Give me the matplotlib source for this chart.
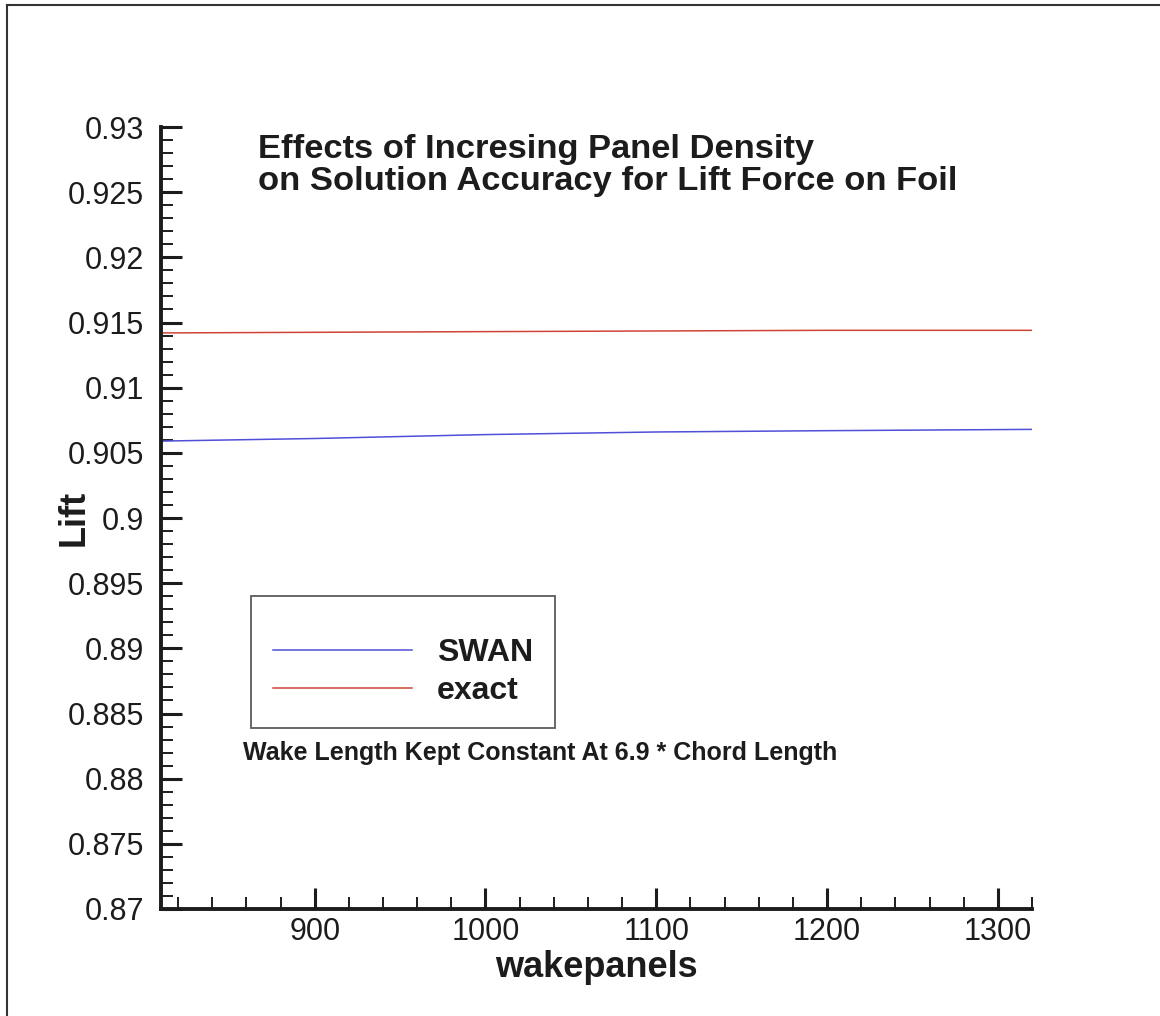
import matplotlib
matplotlib.use("Agg")
import matplotlib.pyplot as plt
from matplotlib.ticker import MultipleLocator, FuncFormatter
from matplotlib.lines import Line2D

plt.rcParams['font.family'] = ['Liberation Sans', 'DejaVu Sans']

# Lift versus number of wake panels
swan_x = [810, 900, 1000, 1100, 1200, 1320]
swan_lift = [0.9059, 0.9061, 0.9064, 0.9066, 0.9067, 0.9068]
exact_x = [810, 1000, 1200, 1320]
exact_lift = [0.9142, 0.9143, 0.9144, 0.9144]

series_names = ["SWAN", "exact"]
title_text = "Effects of Incresing Panel Density\non Solution Accuracy for Lift Force on Foil"
note_text = "Wake Length Kept Constant At 6.9 * Chord Length"
x_label = "wakepanels"
y_label = "Lift"

ink = '#1c1c1c'

fig = plt.figure(figsize=(11.6, 10.16), dpi=100)
ax = fig.add_axes([161 / 1160, 1 - 909 / 1016, (1032 - 161) / 1160, (909 - 127) / 1016])

ax.plot(swan_x, swan_lift, color='#4f4fd8', lw=1.1, label=series_names[0])
ax.plot(exact_x, exact_lift, color='#d04438', lw=1.1, label=series_names[1])

ax.set_xlim(810, 1320)
ax.set_ylim(0.87, 0.93)

for s in ('top', 'right'):
    ax.spines[s].set_visible(False)
for s in ('left', 'bottom'):
    ax.spines[s].set_linewidth(2.8)
    ax.spines[s].set_color(ink)

ax.xaxis.set_major_locator(MultipleLocator(100))
ax.xaxis.set_minor_locator(MultipleLocator(20))
ax.yaxis.set_major_locator(MultipleLocator(0.005))
ax.yaxis.set_minor_locator(MultipleLocator(0.001))
ax.yaxis.set_major_formatter(FuncFormatter(lambda v, p: f"{v:.3f}".rstrip('0').rstrip('.')))

ax.tick_params(which='major', direction='in', length=15, width=2.2, color=ink,
               labelsize=22, labelcolor=ink)
ax.tick_params(which='minor', direction='in', length=8.5, width=1.4, color=ink)
ax.tick_params(axis='y', which='major', pad=12)
ax.tick_params(axis='x', which='major', pad=6)

ax.set_xlabel(x_label, fontsize=26, fontweight='bold', color=ink, labelpad=2)
ax.set_ylabel(y_label, fontsize=26, fontweight='bold', color=ink)
ax.yaxis.set_label_coords((92 - 161) / 871, 0.5)

ax.text(0.111, 0.9915, title_text, transform=ax.transAxes, ha='left', va='top',
        fontsize=24.8, fontweight='bold', color=ink, linespacing=1.06)

leg = ax.legend(loc='upper left', bbox_to_anchor=((251 - 161) / 871, (909 - 596) / 782),
                borderaxespad=0, fancybox=False, frameon=True, edgecolor='#333333',
                prop={'weight': 'bold', 'size': 23}, handlelength=4.35,
                handletextpad=0.78, borderpad=0.69, labelspacing=0.25, title=' ',
                title_fontsize=9)
leg.get_frame().set_linewidth(1.3)
for t in leg.get_texts():
    t.set_color(ink)

ax.text((243 - 161) / 871, (909 - 753) / 782, note_text, transform=ax.transAxes,
        ha='left', va='center', fontsize=18, fontweight='bold', color=ink)

# outer frame
fig.add_artist(Line2D([7 / 1160, 1.0], [1 - 5 / 1016, 1 - 5 / 1016], transform=fig.transFigure,
                      color='#333333', lw=1.5))
fig.add_artist(Line2D([7 / 1160, 7 / 1160], [0.0, 1 - 5 / 1016], transform=fig.transFigure,
                      color='#333333', lw=1.5))

fig.savefig('out.png', dpi=100)
